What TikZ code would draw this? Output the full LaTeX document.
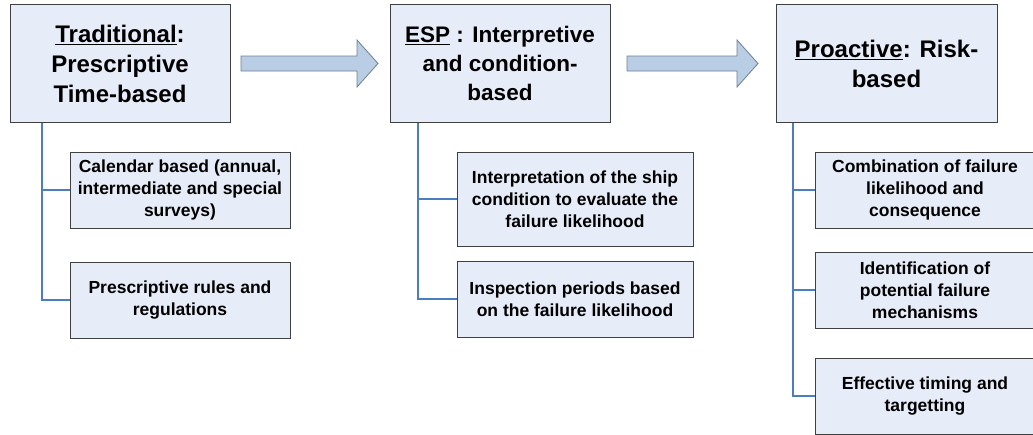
\documentclass[tikz,border=0pt]{standalone}
\usepackage{fontspec}
\setmainfont{Liberation Sans}
\usetikzlibrary{positioning}
\definecolor{boxfill}{HTML}{E7EDF8}
\definecolor{boxline}{HTML}{404040}
\definecolor{linkblue}{HTML}{4A7EC0}
\definecolor{arrowfill}{HTML}{B9CDE5}
\definecolor{arrowline}{HTML}{6F7F95}
\newcommand{\bigfont}{\bfseries\fontsize{24}{30}\selectfont}
\newcommand{\midfont}{\bfseries\fontsize{22.5}{29}\selectfont}
\newcommand{\smallfont}{\bfseries\fontsize{17.5}{22}\selectfont}

\begin{document}
\begin{tikzpicture}[x=1pt,y=-1pt,
    topbox/.style={draw=boxline, fill=boxfill, line width=1pt, inner sep=0pt,
        minimum width=220pt, minimum height=118pt, align=center, font=\bigfont},
    subbox/.style={draw=boxline, fill=boxfill, line width=1pt, inner sep=0pt,
        minimum width=220pt, minimum height=76pt, align=center, font=\smallfont},
    link/.style={draw=linkblue, line width=2pt},
    blockarrow/.style={draw=arrowline, fill=arrowfill, line width=0.8pt}]

        \clip (0,0) rectangle (1033,434);

        % Top boxes
        \node[topbox] (trad) at (120,63.5) {\underline{Traditional}:\\Prescriptive\\Time-based};
        \node[topbox, font=\midfont] (esp) at (500,63.5) {\underline{ESP} : Interpretive\\and condition-\\based};
        \node[topbox, minimum width=221pt] (proact) at (886.5,63.5) {\underline{Proactive}: Risk-\\based};

        % Block arrows between the top boxes
        \draw[blockarrow] (241,56) -- (357,56) -- (357,40) -- (378,63.5)
            -- (357,87) -- (357,71) -- (241,71) -- cycle;
        \draw[blockarrow] (627,56) -- (737,56) -- (737,40) -- (758,63.5)
            -- (737,87) -- (737,71) -- (627,71) -- cycle;

        % Sub boxes, first column
        \node[subbox] (cal) at (180,190) {Calendar based (annual,\\intermediate and special\\surveys)};
        \node[subbox] (rules) at (180,300) {Prescriptive rules and\\regulations};

        % Sub boxes, second column
        \node[subbox, minimum width=236pt, minimum height=94pt] (interp) at (575,199)
            {Interpretation of the ship\\condition to evaluate the\\failure likelihood};
        \node[subbox, minimum width=236pt] (insp) at (575,299)
            {Inspection periods based\\on the failure likelihood};

        % Sub boxes, third column
        \node[subbox] (comb) at (925,190) {Combination of failure\\likelihood and\\consequence};
        \node[subbox] (ident) at (925,290) {Identification of\\potential failure\\mechanisms};
        \node[subbox] (eff) at (925,396) {Effective timing and\\targetting};

        % Tree lines
        \draw[link] ([xshift=32pt]trad.south west) |- (cal.west);
        \draw[link] ([xshift=32pt]trad.south west) |- (rules.west);
        \draw[link] ([xshift=28pt]esp.south west) |- (interp.west);
        \draw[link] ([xshift=28pt]esp.south west) |- (insp.west);
        \draw[link] ([xshift=17pt]proact.south west) |- (comb.west);
        \draw[link] ([xshift=17pt]proact.south west) |- (ident.west);
        \draw[link] ([xshift=17pt]proact.south west) |- (eff.west);
\end{tikzpicture}
\end{document}
